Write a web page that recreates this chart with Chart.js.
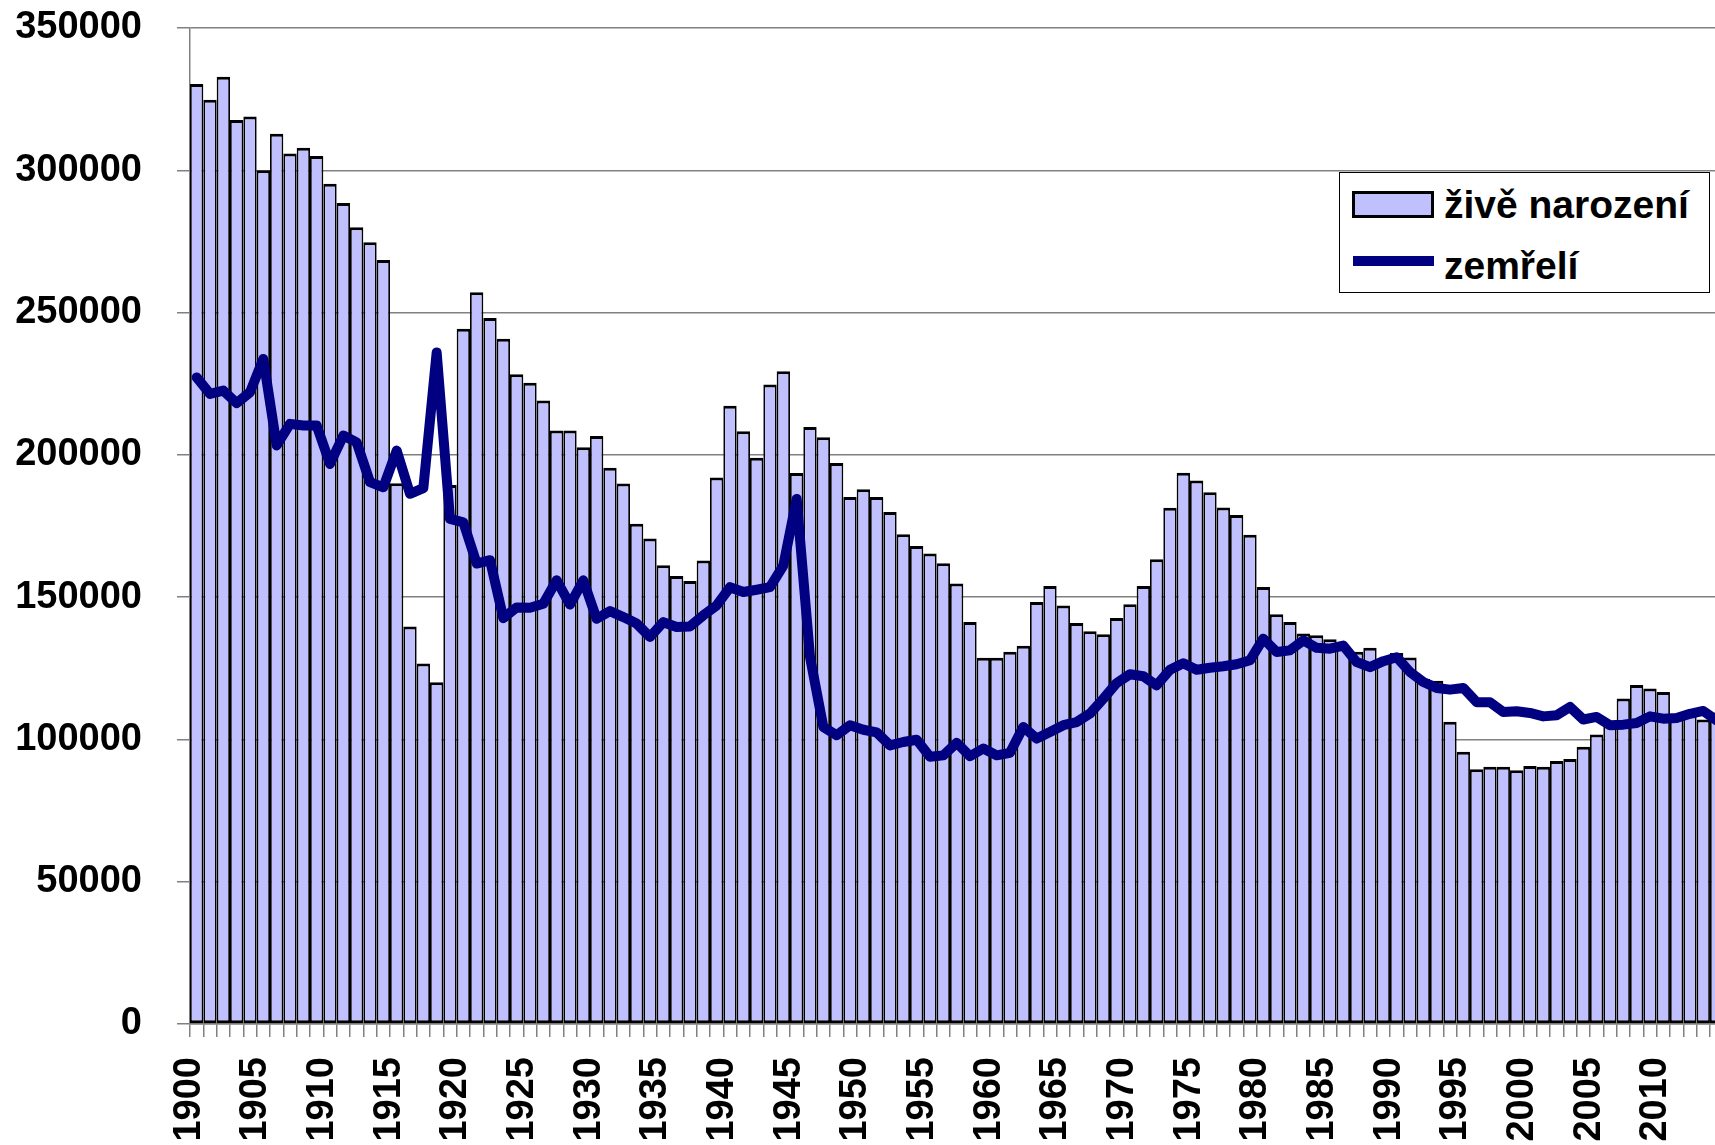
<!DOCTYPE html>
<html>
<head>
<meta charset="utf-8">
<script src="https://cdn.jsdelivr.net/npm/chart.js@4.4.1/dist/chart.umd.min.js"></script>
<style>
  html, body { margin: 0; padding: 0; background: #ffffff; overflow: hidden; }
  #wrap { position: relative; width: 1715px; height: 1145px; overflow: hidden; background: #fff; }
  #chart { position: absolute; left: 0; top: 0; }
  #legend {
    position: absolute; left: 1339px; top: 172px; width: 369px; height: 119px;
    border: 1px solid #000; background: #fff;
    font-family: 'Liberation Sans', Arial, sans-serif; font-weight: bold; font-size: 39px; color: #000;
  }
  .lg-text { position: absolute; left: 104px; line-height: 39px; white-space: nowrap; }
  .sw-bar { position: absolute; left: 12px; top: 18px; width: 76px; height: 21px; border: 3px solid #000; background: #C0C0FF; }
  .sw-line { position: absolute; left: 13px; top: 83px; width: 81px; height: 10px; background: #000080; }
</style>
</head>
<body>
<div id="wrap">
  <canvas id="chart" width="1740" height="1145" style="width:1740px;height:1145px;"></canvas>
  <div id="legend"></div>
</div>
<script>
// ---- data ----
const years = [
  1900,1901,1902,1903,1904,1905,1906,1907,1908,1909,
  1910,1911,1912,1913,1914,1915,1916,1917,1918,1919,
  1920,1921,1922,1923,1924,1925,1926,1927,1928,1929,
  1930,1931,1932,1933,1934,1935,1936,1937,1938,1939,
  1940,1941,1942,1943,1944,1945,1946,1947,1948,1949,
  1950,1951,1952,1953,1954,1955,1956,1957,1958,1959,
  1960,1961,1962,1963,1964,1965,1966,1967,1968,1969,
  1970,1971,1972,1973,1974,1975,1976,1977,1978,1979,
  1980,1981,1982,1983,1984,1985,1986,1987,1988,1989,
  1990,1991,1992,1993,1994,1995,1996,1997,1998,1999,
  2000,2001,2002,2003,2004,2005,2006,2007,2008,2009,
  2010,2011,2012,2013,2014
];

const liveBirths = [
  330300,324800,332900,317700,318900,300000,312800,305900,307900,305000,
  295300,288500,280000,274700,268500,190000,139700,126700,120100,189400,
  244300,257100,248100,240800,228300,225300,219100,208600,208600,202700,
  206600,195500,189900,175800,170600,161200,157400,155700,162900,192000,
  217300,208300,199000,224700,229400,193600,209800,206200,197100,185200,
  187900,185200,179900,172100,168000,165300,161900,154800,141300,128700,
  128700,130800,132900,148300,153900,147100,140900,138000,137000,142700,
  147500,153900,163300,181400,193700,191000,186900,181500,178900,171900,
  153600,144000,141300,137200,136600,135200,132900,130800,132200,128000,
  130400,128800,121200,120600,106200,95700,89500,90400,90400,89200,
  90700,90400,92400,93100,97400,101700,105500,114400,119100,117900,
  116700,108500,108500,107000,109500
];

const deaths = [
  227200,221400,222600,218200,222000,233700,203300,210900,210300,210300,
  196800,206800,204400,190400,188600,201500,186300,188300,236000,177500,
  176300,161800,163000,142600,146400,146300,147700,155900,147400,155900,
  142400,145100,143000,140700,136000,141200,139500,139700,143600,147100,
  153500,151800,152600,153500,161100,184500,129000,104400,101500,105000,
  103400,102500,97900,99100,99900,93900,94400,98800,94100,96800,
  94400,95300,104400,100300,102600,105000,106100,109100,114300,119800,
  122900,122200,119000,124500,126800,124500,125200,125700,126400,127800,
  135400,130700,131300,134800,132200,131900,133000,127200,125400,127500,
  128900,123700,120200,118100,117500,118100,113100,113100,109600,109900,
  109300,108100,108500,111400,107000,107900,105000,105200,105800,108100,
  107300,107500,109000,110000,106700
];

const seriesNames = ['živě narození', 'zemřelí'];
const yTickValues = [0, 50000, 100000, 150000, 200000, 250000, 300000, 350000];
const xLabelYears = [1900,1905,1910,1915,1920,1925,1930,1935,1940,1945,1950,1955,1960,1965,1970,1975,1980,1985,1990,1995,2000,2005,2010];

// ---- chart ----
const FONT = "'Liberation Sans', Arial, sans-serif";
Chart.defaults.font.family = FONT;
Chart.defaults.font.weight = 'bold';
Chart.defaults.color = '#000';

const ctx = document.getElementById('chart').getContext('2d');
const chart = new Chart(ctx, {
  type: 'bar',
  data: {
    labels: years.map(String),
    datasets: [
      {
        type: 'line',
        label: seriesNames[1],
        data: deaths,
        borderColor: '#000080',
        backgroundColor: '#000080',
        borderWidth: 10,
        pointRadius: 0,
        pointHoverRadius: 0,
        tension: 0,
        borderJoinStyle: 'round',
        borderCapStyle: 'round',
        fill: false,
        order: 0
      },
      {
        type: 'bar',
        label: seriesNames[0],
        data: liveBirths,
        backgroundColor: '#C0C0FF',
        borderColor: '#000000',
        borderWidth: { top: 3, left: 1.8, right: 1.8, bottom: 3 },
        borderSkipped: false,
        categoryPercentage: 1.0,
        barPercentage: 1.0,
        inflateAmount: 0,
        order: 1
      }
    ]
  },
  options: {
    responsive: false,
    animation: false,
    events: [],
    layout: { padding: { left: 15, right: 16.7, top: 28, bottom: 0 } },
    plugins: {
      legend: { display: false },
      tooltip: { enabled: false },
      title: { display: false }
    },
    scales: {
      x: {
        type: 'category',
        offset: true,
        grid: {
          display: true,
          drawOnChartArea: false,
          drawTicks: true,
          tickLength: 13,
          color: '#808080',
          lineWidth: 1.5,
          offset: true
        },
        border: { display: true, color: '#808080', width: 1.5 },
        ticks: {
          autoSkip: false,
          minRotation: 90,
          maxRotation: 90,
          padding: 20,
          labelOffset: -7.5,
          font: { size: 38, weight: 'bold', family: FONT },
          color: '#000',
          callback: function (value, index) {
            const y = years[index];
            return xLabelYears.includes(y) ? String(y) : '';
          }
        },
        afterFit: function (s) { s.paddingLeft = 0; s.paddingRight = 0; s.height = 121; }
      },
      y: {
        type: 'linear',
        min: 0,
        max: 350000,
        afterBuildTicks: function (s) { s.ticks = yTickValues.map(v => ({ value: v })); },
        grid: {
          display: true,
          drawOnChartArea: true,
          drawTicks: true,
          tickLength: 13,
          color: '#808080',
          lineWidth: 1.5
        },
        border: { display: true, color: '#808080', width: 1.5 },
        ticks: {
          padding: 35,
          font: { size: 38, weight: 'bold', family: FONT },
          color: '#000',
          callback: function (value) { return String(value); }
        },
        afterFit: function (s) { s.paddingTop = 0; s.paddingBottom = 0; s.width = 175; }
      }
    }
  }
});

// ---- legend (HTML, built from dataset labels) ----
const lg = document.getElementById('legend');
lg.innerHTML =
  '<div class="sw-bar"></div>' +
  '<div class="lg-text" style="top:12px">' + seriesNames[0] + '</div>' +
  '<div class="sw-line"></div>' +
  '<div class="lg-text" style="top:73px">' + seriesNames[1] + '</div>';
</script>
</body>
</html>
